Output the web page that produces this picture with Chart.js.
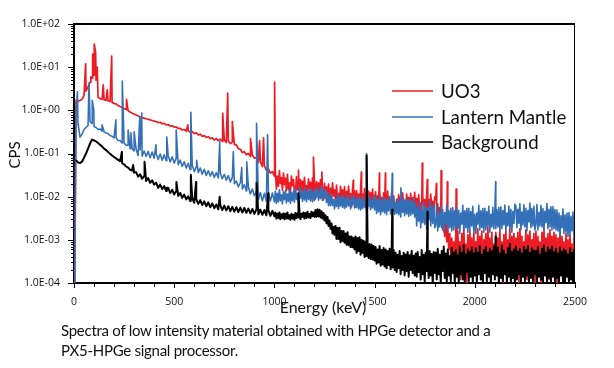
<!DOCTYPE html>
<html>
<head>
<meta charset="utf-8">
<script src="https://cdn.jsdelivr.net/npm/chart.js@4.4.0/dist/chart.umd.min.js"></script>
<style>
html,body{margin:0;padding:0;background:#fff;}
#wrap{position:relative;width:614px;height:368px;overflow:hidden;}
#c{position:absolute;left:0;top:0;}
.xtitle{position:absolute;left:0;width:646px;text-align:center;top:297px;font-family:Lato,sans-serif;font-size:16px;color:#111;}
.ytitle{position:absolute;left:-6px;top:146px;width:40px;text-align:center;font-family:Lato,sans-serif;font-size:15px;color:#111;transform:rotate(-90deg);}
.caption{position:absolute;left:61px;top:320px;font-family:Lato,sans-serif;font-size:15px;letter-spacing:-0.27px;line-height:20px;color:#111;white-space:nowrap;}
</style>
</head>
<body>
<div id="wrap">
<canvas id="c" width="614" height="368"></canvas>
<div class="xtitle">Energy (keV)</div>
<div class="ytitle">CPS</div>
<div class="caption">Spectra of low intensity material obtained with HPGe detector and a<br>PX5-HPGe signal processor.</div>
</div>
<script>
// ---- DATA ----
const seriesNames = ['UO3', 'Lantern Mantle', 'Background'];
const xTickValues = [0, 500, 1000, 1500, 2000, 2500];
const yTickValues = [1e-4, 1e-3, 1e-2, 1e-1, 1, 10, 100];

// low-energy part: 10 keV bins, 10..1000 keV ; high-energy part: 5 keV bins, 1005..2500 keV
const lowStartKeV = 10, lowStepKeV = 10;
const highStartKeV = 1005, highStepKeV = 5;

const uo3CpsLow = [
1.7,1.6,1.7,1.8,2.2,2.8,3.5,4.5,5.5,6.5,
5.0,2.0,1.85,1.8,1.75,1.7,1.65,1.6,1.52,1.45,
1.4,1.3,1.22,1.16,1.1,1.04,0.98,0.92,0.86,0.82,
0.78,0.74,0.71,0.68,0.66,0.64,0.62,0.6,0.58,0.56,
0.55,0.52,0.53,0.49,0.5,0.46,0.47,0.43,0.44,0.41,
0.41,0.38,0.38,0.35,0.36,0.33,0.34,0.31,0.32,0.29,
0.3,0.27,0.28,0.25,0.26,0.235,0.245,0.22,0.23,0.205,
0.22,0.2,0.215,0.19,0.205,0.18,0.195,0.17,0.185,0.16,
0.16,0.13,0.125,0.105,0.11,0.094,0.1,0.086,0.092,0.078,
0.08,0.062,0.064,0.05,0.052,0.041,0.044,0.035,0.038,0.03
];
const uo3CpsHigh = [
0.037,0.015,0.03,0.0175,0.04,0.02,0.0275,0.014,0.035,0.019,0.027,0.0137,0.033,0.0147,0.021,0.0126,0.03,0.018,0.025,0.0126,
0.0126,0.029,0.0144,0.02,0.0099,0.025,0.0135,0.023,0.0117,0.028,0.0126,0.018,0.0108,0.026,0.0153,0.0216,0.0108,0.027,0.0108,0.0216,
0.0088,0.0224,0.012,0.0208,0.0104,0.0248,0.0098,0.014,0.0084,0.0203,0.0119,0.0168,0.0078,0.0195,0.0078,0.0156,0.0091,0.0208,0.0104,0.0143,
0.0078,0.0186,0.0084,0.012,0.0072,0.0174,0.0102,0.0144,0.0068,0.017,0.0066,0.0132,0.0077,0.0176,0.0086,0.0118,0.0058,0.0148,0.0079,0.0137,
0.0058,0.0139,0.0082,0.0115,0.0058,0.0144,0.0058,0.0115,0.0067,0.0154,0.0077,0.0106,0.0053,0.0134,0.0072,0.0125,0.0062,0.0149,0.0067,0.0096,
0.013,0.0052,0.0104,0.0061,0.0139,0.007,0.0096,0.0048,0.0122,0.0065,0.0113,0.0057,0.0135,0.0061,0.0087,0.0052,0.0126,0.0074,0.0104,0.0052,
0.0063,0.0087,0.0043,0.0111,0.0059,0.0103,0.0051,0.0122,0.0055,0.0079,0.0047,0.0115,0.0067,0.0095,0.0047,0.0119,0.0047,0.0095,0.0055,0.0126,
0.0053,0.0092,0.0046,0.011,0.005,0.0071,0.0043,0.0103,0.006,0.0085,0.0043,0.0107,0.0043,0.0085,0.005,0.0114,0.0057,0.0078,0.0039,0.0099,
0.0085,0.0038,0.0068,0.003,0.0056,0.0024,0.0042,0.0017,0.0031,0.0012,0.0024,0.0009,0.0018,0.0006,0.0014,0.0004,0.0011,0.0003,0.0009,0.00025,
0.0012,0.0002,0.0016,0.0004,0.0009,0.00012,0.0014,0.0003,0.0019,0.0005,0.0008,0.0001,0.0013,0.00025,0.0017,0.0004,0.0011,0.00015,0.0015,0.0003,
0.0009,0.0003,0.0018,0.0002,0.0012,0.0005,0.0016,0.0001,0.001,0.00035,0.0014,0.0002,0.002,0.0004,0.0011,0.00012,0.0015,0.0003,0.0008,0.0002,
0.0015,0.00015,0.0011,0.0004,0.0017,0.0003,0.0009,0.0001,0.0013,0.0005,0.0016,0.0002,0.001,0.0003,0.0019,0.00011,0.0012,0.0004,0.0014,0.00025,
0.0011,0.0003,0.0015,0.0001,0.0018,0.0004,0.0012,0.0002,0.0009,0.00045,0.0017,0.00012,0.0013,0.0003,0.0016,0.0002,0.001,0.0005,0.0014,0.0001,
0.0016,0.0002,0.0012,0.00035,0.0009,0.0001,0.0015,0.0004,0.0019,0.00025,0.0011,0.0003,0.0014,0.00012,0.0017,0.0004,0.0012,0.0002,0.0015,0.0003,
0.0013,0.0001,0.0011,0.0003,0.0016,0.0002,0.0012,0.0004,0.0009,0.00011,0.0014,0.0003,0.001,0.0002,0.0013,0.00035,0.0008,0.0001,0.0011,0.0002
];
// spikes: photopeaks plus the near-zero first channel
const uo3SpikeKeV = [3,58,84,93,101,108,116,146,166,188,262,568,742,767,790,881,926,946,1001,1120,1195,1237,1394,1434,1524,1554,1738,1763,1808,1832,1863,1907];
const uo3SpikeCps = [0.00005,12,6,20,34,22,10,3.9,3.0,18,1.8,0.46,0.85,2.5,0.55,0.22,0.2,0.23,4.5,0.041,0.083,0.037,0.024,0.037,0.035,0.035,0.06,0.025,0.02,0.04,0.022,0.015];

const mantleCpsLow = [
0.8,0.5,0.24,0.28,0.36,0.4,0.44,0.55,0.5,0.42,
0.4,0.36,0.37,0.33,0.32,0.3,0.29,0.26,0.25,0.23,
0.23,0.2,0.2,0.175,0.175,0.155,0.155,0.13,0.13,0.115,
0.125,0.09,0.12,0.087,0.114,0.085,0.112,0.08,0.108,0.078,
0.1,0.073,0.097,0.07,0.093,0.068,0.088,0.064,0.084,0.06,
0.077,0.055,0.07,0.05,0.064,0.046,0.059,0.042,0.054,0.038,
0.049,0.036,0.046,0.033,0.043,0.031,0.04,0.03,0.038,0.028,
0.036,0.027,0.035,0.026,0.033,0.024,0.031,0.022,0.028,0.02,
0.023,0.017,0.021,0.015,0.019,0.0135,0.017,0.0115,0.015,0.0105,
0.013,0.0085,0.0125,0.008,0.012,0.0078,0.0128,0.008,0.0122,0.0076
];
const mantleCpsHigh = [
0.0135,0.007,0.012,0.0075,0.0145,0.008,0.011,0.0068,0.013,0.0085,0.014,0.0072,0.0115,0.0078,0.015,0.007,0.0125,0.008,0.0135,0.0074,
0.0157,0.0086,0.0119,0.0073,0.014,0.0092,0.0151,0.0078,0.0124,0.0084,0.0162,0.0076,0.0135,0.0086,0.0146,0.008,0.0146,0.0076,0.013,0.0081,
0.015,0.0098,0.0161,0.0083,0.0132,0.009,0.0173,0.0081,0.0144,0.0092,0.0142,0.0073,0.0124,0.0062,0.0102,0.0062,0.0116,0.0063,0.0086,0.0052,
0.0087,0.0059,0.0114,0.0053,0.0095,0.0061,0.0103,0.0056,0.0103,0.0053,0.0091,0.0057,0.011,0.0061,0.0084,0.0052,0.0099,0.0065,0.0106,0.0055,
0.0088,0.0056,0.0095,0.0052,0.0095,0.0049,0.0084,0.0053,0.0102,0.0056,0.0077,0.0048,0.0091,0.006,0.0098,0.005,0.0081,0.0055,0.0105,0.0049,
0.0095,0.0041,0.0085,0.0044,0.0101,0.0038,0.0079,0.0045,0.0098,0.0042,0.0088,0.0038,0.0082,0.0047,0.0101,0.004,0.0091,0.0044,0.0095,0.0039,
0.0071,0.0041,0.0088,0.0038,0.008,0.0034,0.0074,0.0043,0.0091,0.0036,0.0083,0.004,0.0086,0.0035,0.0086,0.0037,0.0077,0.004,0.0091,0.0034,
0.0068,0.0021,0.0057,0.0027,0.0076,0.0019,0.0049,0.0025,0.0072,0.0023,0.0061,0.0018,0.0053,0.0029,0.008,0.0021,0.0059,0.0024,0.0067,0.0019,
0.0022,0.0062,0.0016,0.004,0.002,0.0059,0.0019,0.005,0.0015,0.0043,0.0023,0.0065,0.0017,0.0048,0.0019,0.0054,0.0016,0.0056,0.0017,0.0047,
0.002,0.0057,0.0018,0.0048,0.0014,0.0042,0.0023,0.0063,0.0017,0.0047,0.0019,0.0053,0.0015,0.0054,0.0017,0.0045,0.0021,0.006,0.0015,0.0039,
0.0014,0.0042,0.0023,0.0063,0.0017,0.0047,0.0019,0.0053,0.0015,0.0054,0.0017,0.0045,0.0021,0.006,0.0015,0.0039,0.002,0.0057,0.0018,0.0048,
0.0018,0.005,0.002,0.0056,0.0016,0.0058,0.0018,0.0048,0.0022,0.0064,0.0016,0.0042,0.0021,0.0061,0.0019,0.0051,0.0015,0.0045,0.0024,0.0067,
0.0061,0.0019,0.0051,0.0024,0.0068,0.0017,0.0044,0.0022,0.0065,0.002,0.0054,0.0016,0.0048,0.0026,0.0071,0.0019,0.0053,0.0021,0.006,0.0017,
0.0023,0.0066,0.0017,0.0043,0.0021,0.0063,0.002,0.0053,0.0016,0.0046,0.0025,0.0069,0.0018,0.0051,0.002,0.0058,0.0017,0.0059,0.0018,0.005,
0.0017,0.0049,0.0016,0.0042,0.0012,0.0036,0.0019,0.0052,0.0014,0.0038,0.0015,0.0042,0.0012,0.0043,0.0013,0.0035,0.0016,0.0044,0.0011,0.0029
];
const mantleSpikeKeV = [4,17,75,91,99,140,209,241,270,284,300,328,338,409,463,510,583,612,727,795,837,862,911,966,1125,1240,1460,1588,1631,2104];
const mantleSpikeCps = [0.00005,2.7,4.3,1.7,1.0,0.46,0.6,4.8,0.35,0.3,0.32,0.7,0.86,0.16,0.24,0.35,0.9,0.07,0.19,0.11,0.047,0.064,0.5,0.27,0.016,0.015,0.1,0.035,0.016,0.022];

const backgroundCpsLow = [
0.07,0.062,0.06,0.065,0.08,0.1,0.13,0.17,0.21,0.2,
0.19,0.175,0.16,0.145,0.13,0.12,0.108,0.098,0.09,0.083,
0.077,0.071,0.066,0.06,0.056,0.05,0.047,0.042,0.04,0.036,
0.037,0.029,0.033,0.026,0.03,0.023,0.027,0.021,0.024,0.019,
0.021,0.016,0.019,0.015,0.0175,0.0135,0.016,0.0122,0.0145,0.0112,
0.0135,0.0104,0.0122,0.0094,0.0112,0.0086,0.0102,0.0079,0.0093,0.0072,
0.0088,0.0068,0.0083,0.0064,0.0078,0.006,0.0074,0.0057,0.007,0.0054,
0.0066,0.0051,0.0064,0.0049,0.0062,0.0048,0.006,0.0046,0.0058,0.0045,
0.0057,0.0044,0.0056,0.0043,0.0055,0.0042,0.0053,0.0041,0.0052,0.004,
0.0051,0.0039,0.005,0.0038,0.0049,0.0037,0.0048,0.0036,0.0047,0.0035
];
const backgroundCpsHigh = [
0.0043,0.0031,0.004,0.0032,0.0043,0.003,0.0039,0.0032,0.0041,0.003,0.004,0.0031,0.0043,0.0031,0.0037,0.0029,0.004,0.0031,0.0038,0.0029,
0.0042,0.0032,0.0041,0.0033,0.0045,0.003,0.004,0.0034,0.0043,0.0031,0.0042,0.0032,0.0045,0.0033,0.004,0.0032,0.0045,0.0035,0.0043,0.0034,
0.0049,0.0034,0.0051,0.0035,0.005,0.0033,0.0046,0.0031,0.0042,0.0028,0.0037,0.0024,0.0034,0.0021,0.0028,0.0018,0.0024,0.0014,0.002,0.0013,
0.0021,0.00105,0.0019,0.00105,0.0019,0.00088,0.0016,0.00094,0.0016,0.00086,0.0014,0.00077,0.0015,0.00075,0.0012,0.00068,0.0012,0.00067,0.0011,0.0006,
0.0012,0.0005,0.0011,0.00055,0.00115,0.00045,0.001,0.0005,0.00095,0.0004,0.0009,0.00042,0.00085,0.00038,0.0008,0.00036,0.00078,0.00035,0.00072,0.00033,
0.00068,0.00028,0.0006,0.0003,0.00072,0.00025,0.00058,0.00027,0.00065,0.00024,0.0006,0.00022,0.00055,0.00026,0.00062,0.00021,0.00052,0.00023,0.00058,0.0002,
0.0005,0.00018,0.00045,0.00022,0.00055,0.00016,0.00042,0.0002,0.0005,0.00015,0.00046,0.00019,0.00052,0.00014,0.00044,0.0002,0.00056,0.00017,0.00043,0.00015,
0.00048,0.00014,0.00052,0.00018,0.0004,0.00012,0.00058,0.00016,0.00045,0.00011,0.0005,0.00019,0.00042,0.00013,0.00055,0.00015,0.00047,0.0001,0.00052,0.00017,
0.0005,0.00012,0.00062,0.00016,0.00045,0.0001,0.00055,0.00019,0.0007,0.00013,0.00048,0.0001,0.0006,0.00015,0.00042,0.00011,0.00065,0.00017,0.0005,0.0001,
0.00058,0.00014,0.00044,0.0001,0.00068,0.00016,0.0005,0.00012,0.00075,0.0001,0.00046,0.00018,0.0006,0.00011,0.00052,0.00014,0.00066,0.0001,0.00048,0.00015,
0.00064,0.0001,0.0005,0.00016,0.00072,0.00012,0.00045,0.0001,0.00058,0.00017,0.00068,0.00011,0.0005,0.00014,0.00062,0.0001,0.00054,0.00016,0.0007,0.00012,
0.00052,0.00015,0.00066,0.0001,0.00048,0.00013,0.00074,0.00011,0.00056,0.00016,0.00046,0.0001,0.00064,0.00014,0.0008,0.00011,0.00052,0.00013,0.0006,0.0001,
0.0007,0.00012,0.00054,0.00016,0.00062,0.0001,0.00048,0.00014,0.00068,0.00011,0.00058,0.00015,0.00072,0.0001,0.0005,0.00013,0.00064,0.00011,0.00056,0.00016,
0.00055,0.0001,0.00068,0.00014,0.00046,0.00012,0.00062,0.0001,0.00074,0.00015,0.0005,0.00011,0.00066,0.00013,0.00058,0.0001,0.0007,0.00014,0.00052,0.00011,
0.00062,0.00013,0.00048,0.0001,0.00066,0.00015,0.00052,0.00011,0.0006,0.0001,0.00056,0.00014,0.00046,0.0001,0.00064,0.00012,0.0005,0.0001,0.00058,0.00011
];
const bgSpikeKeV = [239,295,352,463,511,583,609,727,911,969,1120,1460,1588,1764,2104];
const bgSpikeCps = [0.11,0.054,0.064,0.016,0.022,0.032,0.022,0.01,0.021,0.012,0.012,0.09,0.005,0.0045,0.0012];

const seriesColors = ['#ed1c24', '#3470b8', '#000000'];
const seriesWidths = [1.7, 1.6, 2.0];

// ---- BUILD ----
function buildSeries(low, high, spikeE, spikeV) {
  const pts = low.map((v, i) => ({x: lowStartKeV + i * lowStepKeV, y: v}));
  high.forEach((v, i) => pts.push({x: highStartKeV + i * highStepKeV, y: v}));
  spikeE.forEach((e, i) => pts.push({x: e, y: spikeV[i]}));
  pts.sort((a, b) => a.x - b.x);
  return pts;
}

function fmtExp(v) {
  const e = Math.round(Math.log10(v));
  const sign = e < 0 ? '-' : '+';
  const a = Math.abs(e);
  return '1.0E' + sign + (a < 10 ? '0' : '') + a;
}

const framePlugin = {
  id: 'frame',
  afterDraw(chart) {
    const {ctx, chartArea: ca, scales: {x, y}} = chart;
    ctx.save();
    ctx.strokeStyle = '#000';
    ctx.lineWidth = 2;
    ctx.beginPath(); ctx.moveTo(ca.left - 1, ca.top); ctx.lineTo(ca.right, ca.top); ctx.stroke();
    ctx.lineWidth = 1;
    ctx.beginPath(); ctx.moveTo(ca.right - 0.5, ca.top); ctx.lineTo(ca.right - 0.5, ca.bottom); ctx.stroke();
    for (let v = x.min; v <= x.max; v += 100) {
      const px = Math.round(x.getPixelForValue(v)) + 0.5;
      const len = (v % 500 === 0) ? 5 : 4;
      ctx.beginPath(); ctx.moveTo(px, ca.bottom); ctx.lineTo(px, ca.bottom + len); ctx.stroke();
    }
    for (let d = -4; d <= 2; d++) {
      for (let m = 1; m <= 9; m++) {
        const val = m * Math.pow(10, d);
        if (val > y.max * 1.0001) break;
        const py = Math.round(y.getPixelForValue(val)) + 0.5;
        const len = m === 1 ? 6 : 3;
        ctx.beginPath(); ctx.moveTo(ca.left, py); ctx.lineTo(ca.left - len, py); ctx.stroke();
      }
    }
    ctx.font = '18.7px Lato, sans-serif';
    ctx.textBaseline = 'middle';
    ctx.fillStyle = '#111';
    const lx0 = ca.left + 318, lx1 = ca.left + 359, tx = ca.left + 367;
    const ly = [ca.top + 67, ca.top + 93, ca.top + 118];
    seriesNames.forEach((name, i) => {
      ctx.strokeStyle = seriesColors[i];
      ctx.lineWidth = 1.5;
      ctx.beginPath(); ctx.moveTo(lx0, ly[i]); ctx.lineTo(lx1, ly[i]); ctx.stroke();
      ctx.fillText(name, tx, ly[i] + 1);
    });
    ctx.restore();
  }
};

const orders = [3, 2, 1];
const allData = [
  buildSeries(uo3CpsLow, uo3CpsHigh, uo3SpikeKeV, uo3SpikeCps),
  buildSeries(mantleCpsLow, mantleCpsHigh, mantleSpikeKeV, mantleSpikeCps),
  buildSeries(backgroundCpsLow, backgroundCpsHigh, bgSpikeKeV, bgSpikeCps)
];

new Chart(document.getElementById('c'), {
  type: 'scatter',
  data: {
    datasets: seriesNames.map((name, i) => ({
      label: name,
      data: allData[i],
      showLine: true,
      borderColor: seriesColors[i],
      backgroundColor: seriesColors[i],
      borderWidth: seriesWidths[i],
      borderJoinStyle: 'round',
      pointRadius: 0,
      tension: 0,
      order: orders[i]
    }))
  },
  options: {
    responsive: false,
    animation: false,
    devicePixelRatio: 1,
    layout: {padding: {top: 24, right: 39, left: 0, bottom: 0}},
    plugins: {legend: {display: false}, tooltip: {enabled: false}},
    scales: {
      x: {
        type: 'linear', min: 0, max: 2500,
        grid: {display: false},
        border: {display: true, color: '#000', width: 2},
        ticks: {font: {family: 'Open Sans', size: 10.5}, color: '#111', padding: 5, maxRotation: 0, autoSkip: false, callback: v => String(v)},
        afterBuildTicks: s => { s.ticks = xTickValues.map(v => ({value: v})); },
        afterFit: s => { s.height = 85; }
      },
      y: {
        type: 'logarithmic', min: 1e-4, max: 100,
        grid: {display: false},
        border: {display: true, color: '#000', width: 2},
        ticks: {font: {family: 'Open Sans', size: 10.5}, color: '#111', padding: 6, callback: v => fmtExp(v)},
        afterBuildTicks: s => { s.ticks = yTickValues.map(v => ({value: v})); },
        afterFit: s => { s.width = 74; }
      }
    }
  },
  plugins: [framePlugin]
});
</script>
</body>
</html>
